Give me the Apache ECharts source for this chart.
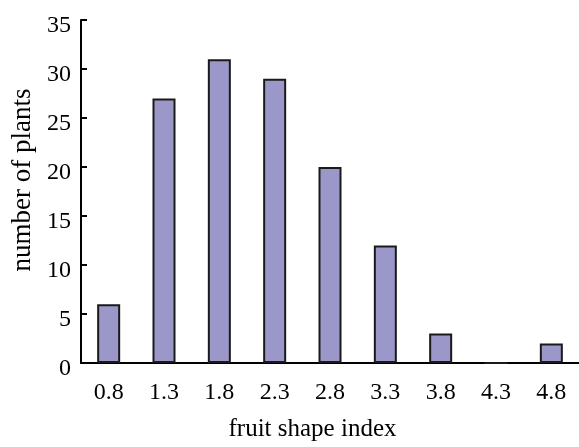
<!DOCTYPE html>
<html>
<head>
<meta charset="utf-8">
<script src="https://cdn.jsdelivr.net/npm/echarts@6/dist/echarts.min.js"></script>
<style>html,body{margin:0;padding:0;background:#fff;}#c{width:579px;height:447px;}</style>
</head>
<body>
<div id="c"></div>
<script>
var categories = ['0.8','1.3','1.8','2.3','2.8','3.3','3.8','4.3','4.8'];
var plantCounts = [6, 27, 31, 29, 20, 12, 3, 0, 2];
var xAxisTitle = 'fruit shape index';
var yAxisTitle = 'number of plants';

var chart = echarts.init(document.getElementById('c'), null, {renderer:'canvas'});
var font = '"Liberation Serif", "Times New Roman", serif';
chart.setOption({
  animation: false,
  backgroundColor: '#ffffff',
  grid: {left: 81, top: 20, width: 503, height: 346},
  xAxis: {
    type: 'category',
    data: categories,
    name: xAxisTitle,
    nameLocation: 'middle',
    nameGap: 54,
    nameTextStyle: {fontFamily: font, fontSize: 25, color: '#000', padding: [0, 35, 0, 0]},
    axisLine: {lineStyle: {color: '#000', width: 2}},
    axisTick: {show: false},
    axisLabel: {fontFamily: font, fontSize: 24, color: '#000', margin: 18},
    splitLine: {show: false}
  },
  yAxis: {
    type: 'value',
    min: 0, max: 35, interval: 5,
    name: yAxisTitle,
    nameLocation: 'middle',
    nameGap: 38,
    nameRotate: 90,
    nameTextStyle: {fontFamily: font, fontSize: 27, color: '#000', padding: [0, 0, 0, 23]},
    axisLine: {show: true, lineStyle: {color: '#000', width: 2}},
    axisTick: {show: true, inside: true, length: 6, lineStyle: {color: '#000', width: 2}},
    axisLabel: {
      margin: 10,
      formatter: '{v|{value}}',
      rich: {v: {fontFamily: font, fontSize: 24, color: '#000', padding: [11, 0, 0, 0]}}
    },
    splitLine: {show: false}
  },
  series: [{
    type: 'bar',
    data: plantCounts,
    barWidth: 23,
    itemStyle: {color: '#9b98c9', borderColor: '#1a1a1a', borderWidth: 2}
  }]
});
</script>
</body>
</html>
